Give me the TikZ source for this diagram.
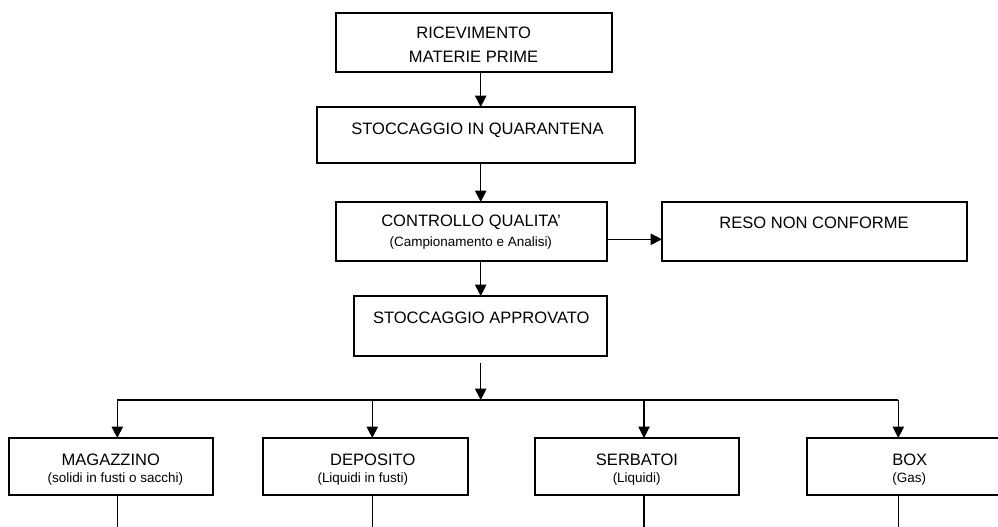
\documentclass[tikz,border=0pt]{standalone}
\usepackage{fontspec}
\setmainfont{Liberation Sans}
\usetikzlibrary{arrows.meta}
\begin{document}
\begin{tikzpicture}[x=0.75pt,y=-0.75pt,
  box/.style={draw, line width=0.8pt, inner sep=0pt, outer sep=0pt},
  big/.style={inner sep=0pt, font=\fontsize{12.4}{14}\selectfont},
  small/.style={inner sep=0pt, font=\fontsize{10.1}{12}\selectfont},
  conn/.style={line width=0.8pt},
  arr/.style={conn, -{Triangle[length=8.5pt,width=8.5pt]}}]
\useasboundingbox (0,0) rectangle (998,527);
% helper coordinates
\coordinate (spine) at (480.7,0);
\coordinate (hy) at (0,239.3);
\coordinate (bus) at (0,400);
\coordinate (bot) at (0,530);
\coordinate (b1) at (117.3,400);
\coordinate (b2) at (372.3,400);
\coordinate (b3) at (644,400);
\coordinate (b4) at (898.3,400);
% boxes
\node[box, minimum width={276*0.75pt}, minimum height={59*0.75pt}] (ric) at (474,42.5) {};
\node[box, minimum width={318*0.75pt}, minimum height={56*0.75pt}] (qua) at (476,135) {};
\node[box, minimum width={271*0.75pt}, minimum height={59*0.75pt}] (cq) at (471.5,231.5) {};
\node[box, minimum width={305*0.75pt}, minimum height={59*0.75pt}] (reso) at (814.5,231.5) {};
\node[box, minimum width={253*0.75pt}, minimum height={60*0.75pt}] (app) at (480.5,326) {};
\node[box, minimum width={204*0.75pt}, minimum height={57*0.75pt}] (mag) at (111,466.5) {};
\node[box, minimum width={205*0.75pt}, minimum height={57*0.75pt}] (dep) at (365.5,466.5) {};
\node[box, minimum width={204*0.75pt}, minimum height={57*0.75pt}] (ser) at (637,466.5) {};
\node[box, minimum width={204*0.75pt}, minimum height={57*0.75pt}] (boxn) at (909,466.5) {};
% texts
\node[big] (t1) at (473.6,33) {RICEVIMENTO};
\node[big] (t2) at (473.6,56.7) {MATERIE PRIME};
\node[big] (t3) at (477.5,130) {STOCCAGGIO IN QUARANTENA};
\node[big] (t4) at (471,222.7) {CONTROLLO QUALITA'};
\node[small] (t5) at (470.8,243.3) {(Campionamento e Analisi)};
\node[big] (t6) at (814,223.3) {RESO NON CONFORME};
\node[big] (t7) at (481.3,318.3) {STOCCAGGIO APPROVATO};
\node[big] (t8) at (110.8,460) {MAGAZZINO};
\node[small] (t9) at (115.3,479) {(solidi in fusti o sacchi)};
\node[big] (t10) at (372.8,460) {DEPOSITO};
\node[small] (t11) at (362.8,479) {(Liquidi in fusti)};
\node[big] (t12) at (637,460) {SERBATOI};
\node[small] (t13) at (636.7,479) {(Liquidi)};
\node[big] (t14) at (909.7,460) {BOX};
\node[small] (t15) at (909.3,479) {(Gas)};
% connectors
\draw[arr] (ric.south -| spine) -- (qua.north -| spine);
\draw[arr] (qua.south -| spine) -- (cq.north -| spine);
\draw[arr] (cq.south -| spine) -- (app.north -| spine);
\draw[arr] (cq.east |- hy) -- (reso.west |- hy);
\draw[arr, shorten <=5pt] (app.south -| spine) -- (spine |- bus);
\draw[conn] (b1) -- (b4);
\draw[arr] (b1) -- (b1 |- mag.north);
\draw[arr] (b2) -- (b2 |- dep.north);
\draw[arr] (b3) -- (b3 |- ser.north);
\draw[arr] (b4) -- (b4 |- boxn.north);
\draw[conn] (mag.south -| b1) -- (b1 |- bot);
\draw[conn] (dep.south -| b2) -- (b2 |- bot);
\draw[conn] (ser.south -| b3) -- (b3 |- bot);
\draw[conn] (boxn.south -| b4) -- (b4 |- bot);
\end{tikzpicture}
\end{document}
